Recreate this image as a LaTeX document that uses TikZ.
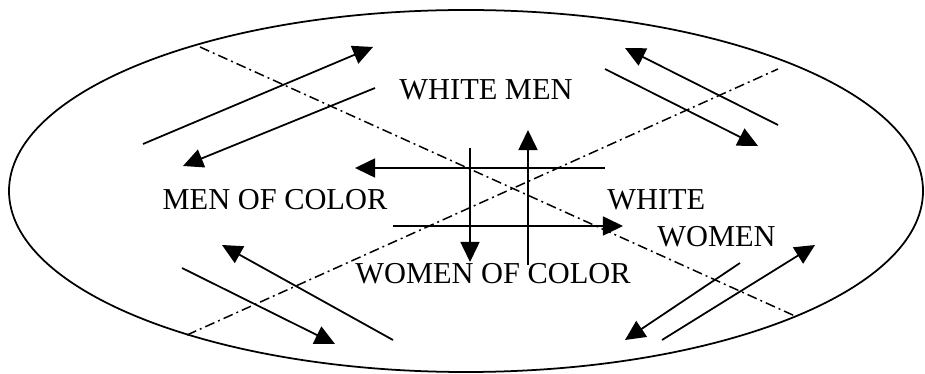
\documentclass[tikz,border=0pt]{standalone}
\usepackage{fontspec}
\setmainfont{Liberation Serif}
\usetikzlibrary{arrows.meta}

\begin{document}
\begin{tikzpicture}[x=0.02cm, y=-0.02cm,
        group/.style={inner sep=0pt, font=\fontsize{17.3}{20}\selectfont},
        arrow/.style={-{Triangle[length=11.4pt, width=10.8pt]}, line width=1pt},
        divider/.style={line width=0.85pt, dash pattern=on 5.7pt off 2.3pt on 1.1pt off 2.3pt}
    ]
        \useasboundingbox (0,0) rectangle (925,374);

        % Outer field
        \draw[line width=1pt] (466,191) ellipse [x radius=457, y radius=181];

        % Groups
        \node[group, anchor=base] (wm) at (486,100) {WHITE MEN};
        \node[group, anchor=base] (mc) at (275,210) {MEN OF COLOR};
        \node[group, anchor=base] (wc) at (493,284) {WOMEN OF COLOR};
        \node[group, anchor=base west] (ww1) at (607,210) {WHITE};
        \node[group, anchor=base west] (ww2) at (657,247) {WOMEN};

        % Dividers
        \coordinate (d1s) at (200,47);
        \coordinate (d1e) at (795,316);
        \coordinate (d2s) at (187,335);
        \coordinate (d2e) at (778,69);
        \draw[divider] (d1s) -- (d1e);
        \draw[divider] (d2s) -- (d2e);

        % Outer flows
        \coordinate (nw1s) at (143,144);  \coordinate (nw1e) at (373,47);
        \coordinate (nw2s) at (375,88);   \coordinate (nw2e) at (183,166);
        \coordinate (ne1s) at (778,125);  \coordinate (ne1e) at (625,48);
        \coordinate (ne2s) at (605,69);   \coordinate (ne2e) at (758,146);
        \coordinate (sw1s) at (182,268);  \coordinate (sw1e) at (335,344);
        \coordinate (sw2s) at (393,340);  \coordinate (sw2e) at (222,245);
        \coordinate (se1s) at (740,263);  \coordinate (se1e) at (625,340);
        \coordinate (se2s) at (662,340);  \coordinate (se2e) at (815,245);

        % Inner flows
        \coordinate (c1s) at (605,168);   \coordinate (c1e) at (355,168);
        \coordinate (c2s) at (393,226);   \coordinate (c2e) at (623,226);
        \coordinate (c3s) at (470,148);   \coordinate (c3e) at (470,262);
        \coordinate (c4s) at (528,265);   \coordinate (c4e) at (528,130);

        \foreach \f in {nw1, nw2, ne1, ne2, sw1, sw2, se1, se2, c1, c2, c3, c4}
            \draw[arrow] (\f s) -- (\f e);

    \end{tikzpicture}
\end{document}
